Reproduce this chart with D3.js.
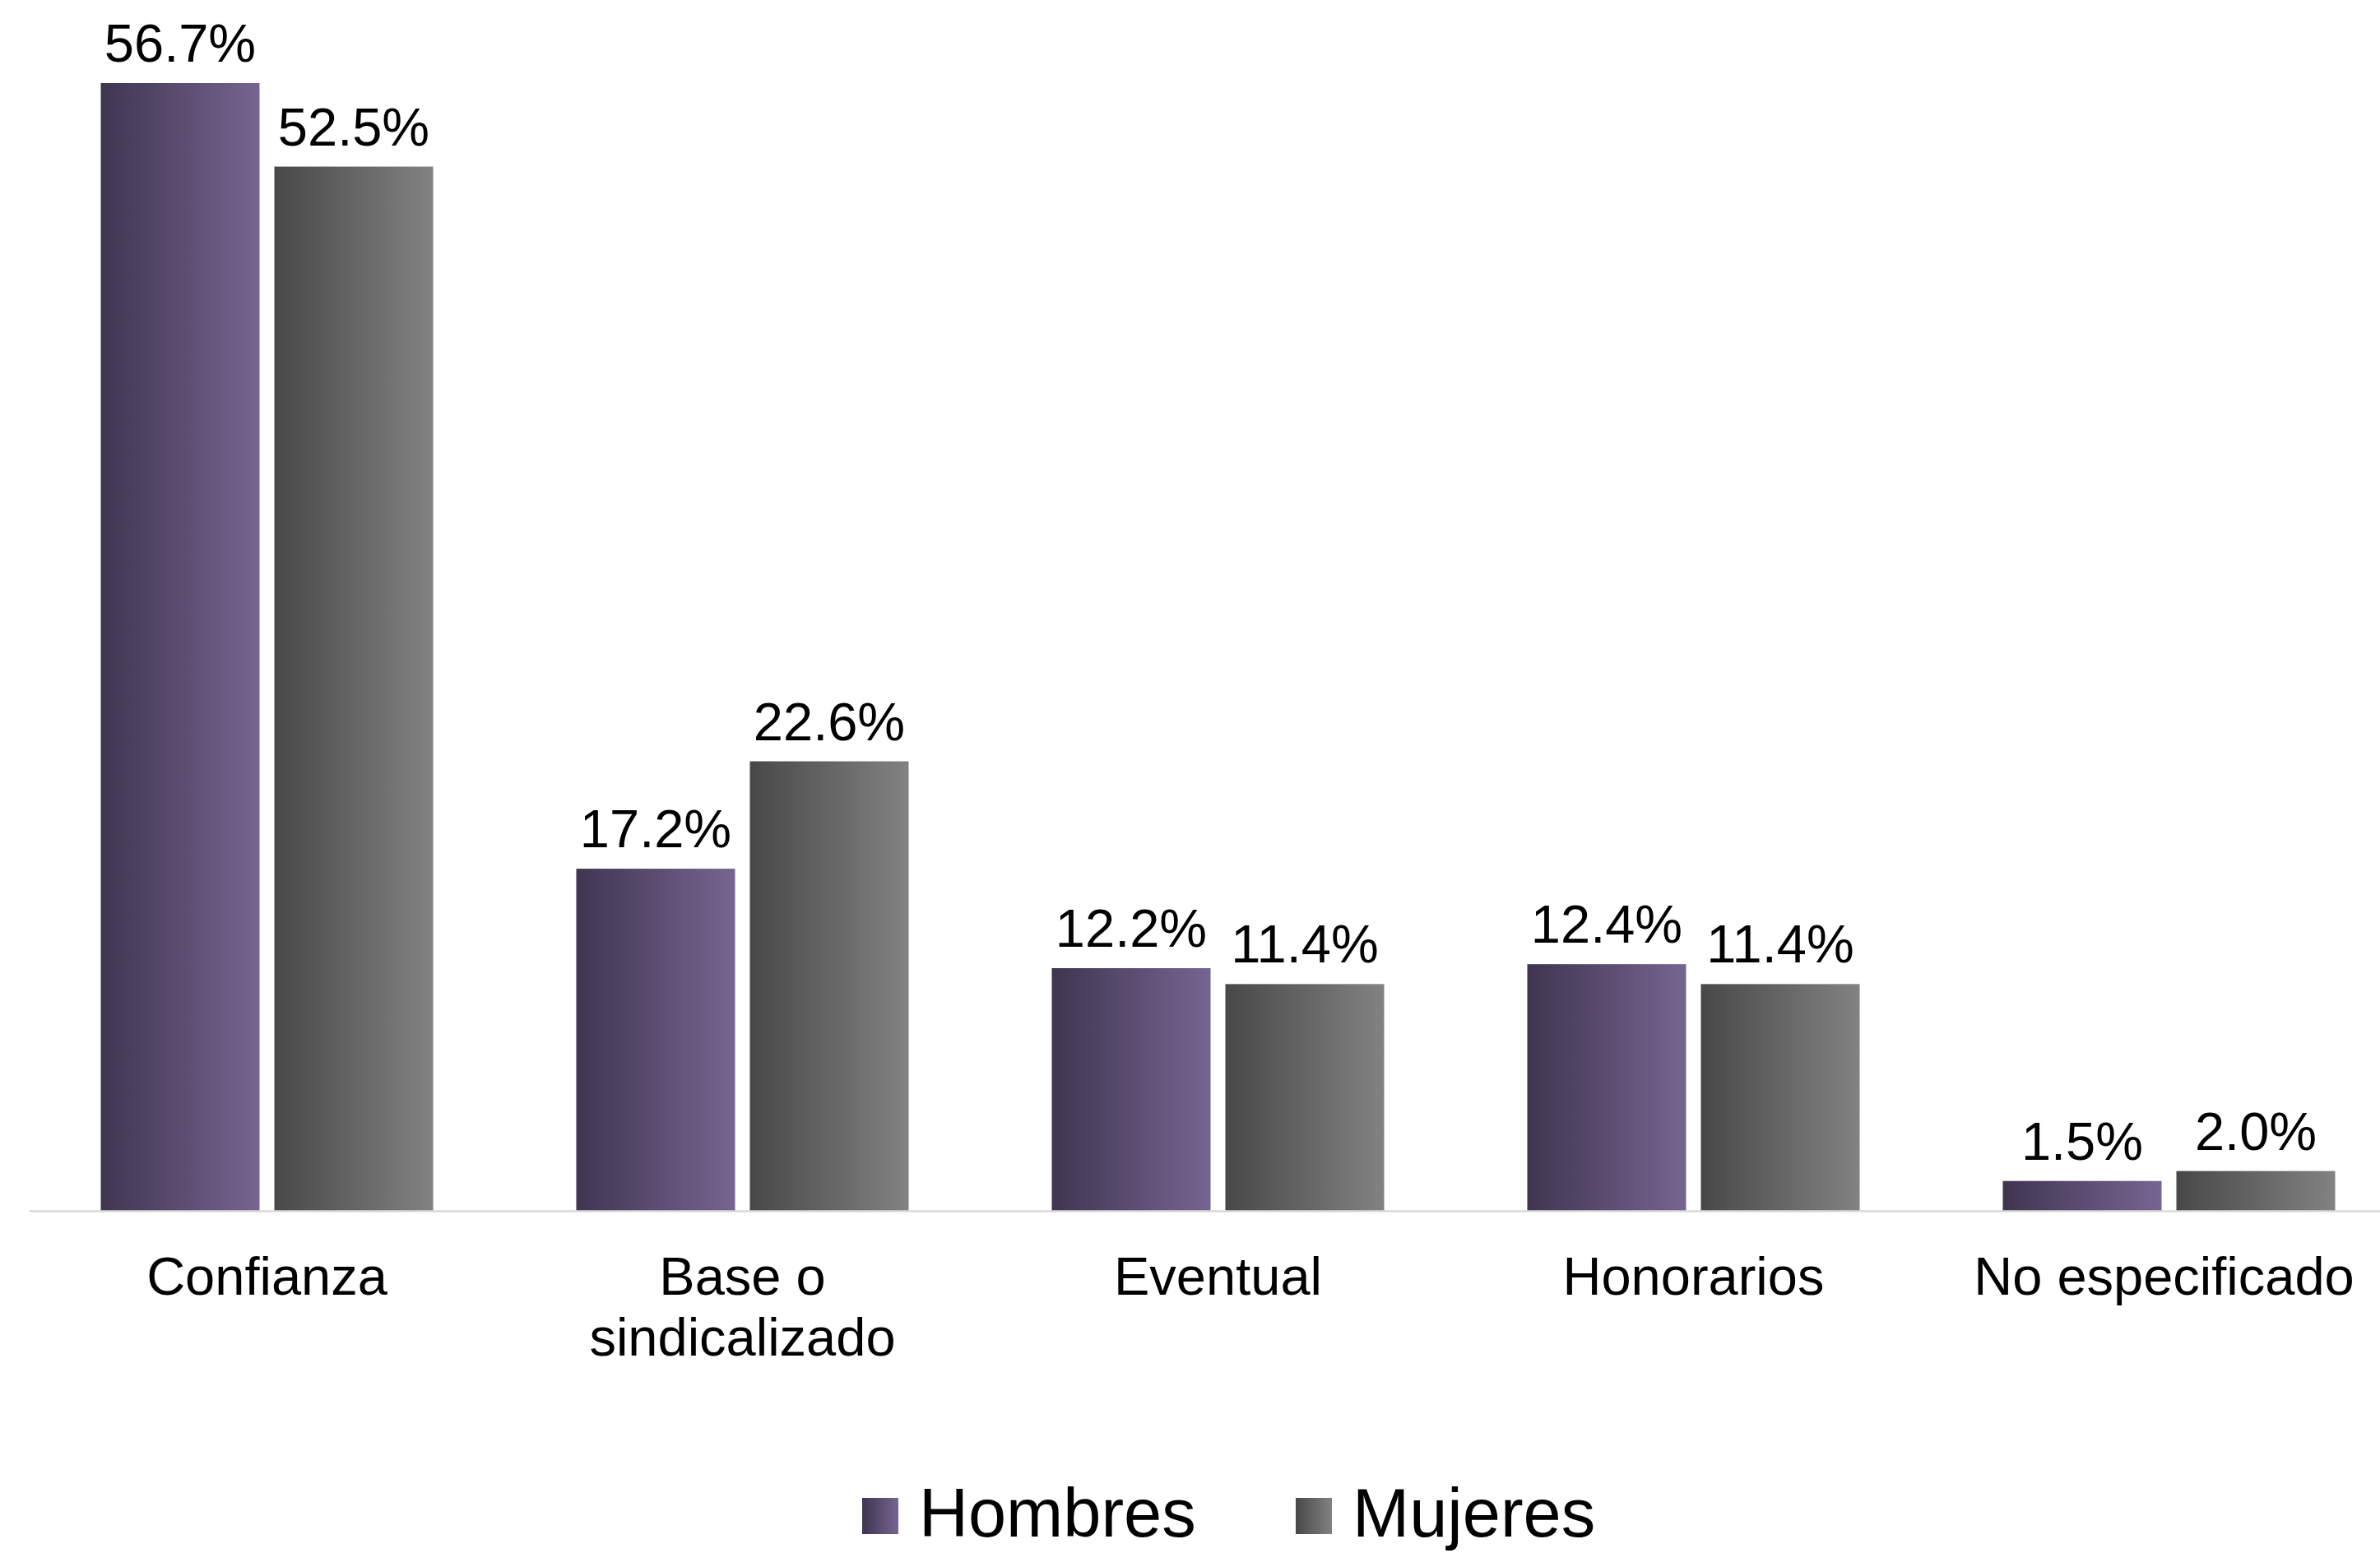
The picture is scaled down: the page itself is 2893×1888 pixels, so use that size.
<!DOCTYPE html>
<html>
<head>
<meta charset="utf-8">
<script src="https://cdn.jsdelivr.net/npm/d3@7"></script>
<style>
  html, body { margin: 0; padding: 0; background: #ffffff; overflow: hidden; }
  svg { display: block; }
  text { font-family: "Liberation Sans", Arial, sans-serif; fill: #000; }
</style>
</head>
<body>
<svg id="chart" width="2893" height="1888"></svg>
<script>
const categories = ["Confianza", "Base o sindicalizado", "Eventual", "Honorarios", "No especificado"];
const categoryLines = [["Confianza"], ["Base o", "sindicalizado"], ["Eventual"], ["Honorarios"], ["No especificado"]];
const series = ["Hombres", "Mujeres"];
const hombres = [56.7, 17.2, 12.2, 12.4, 1.5];
const mujeres = [52.5, 22.6, 11.4, 11.4, 2.0];
const valueLabels = {
  Hombres: ["56.7%", "17.2%", "12.2%", "12.4%", "1.5%"],
  Mujeres: ["52.5%", "22.6%", "11.4%", "11.4%", "2.0%"]
};

const W = 2893, H = 1888;
const svg = d3.select("#chart");

const defs = svg.append("defs");
const grads = {
  Hombres: ["#3f3550", "#766591"],
  Mujeres: ["#484848", "#828282"]
};
series.forEach(s => {
  const g = defs.append("linearGradient").attr("id", "g-" + s)
    .attr("x1", "0%").attr("x2", "100%").attr("y1", "0%").attr("y2", "0%");
  g.append("stop").attr("offset", "0%").attr("stop-color", grads[s][0]);
  g.append("stop").attr("offset", "100%").attr("stop-color", grads[s][1]);
});

const baseY = 1472;
const pxPerUnit = 24.18;
const y = d3.scaleLinear().domain([0, 60]).range([baseY, baseY - 60 * pxPerUnit]);
const x0 = d3.scaleBand().domain(categories).range([35.5, 35.5 + 5 * 578]).paddingInner(0).paddingOuter(0);
const bw = x0.bandwidth();
const x1 = d3.scaleBand().domain(series).range([bw * 0.1505, bw * 0.8495]).paddingInner(18 / 211).paddingOuter(0);

const data = categories.map((c, i) => ({
  cat: c,
  vals: [
    { s: "Hombres", v: hombres[i], lab: valueLabels.Hombres[i] },
    { s: "Mujeres", v: mujeres[i], lab: valueLabels.Mujeres[i] }
  ]
}));

const groups = svg.append("g").selectAll("g.grp").data(data).join("g")
  .attr("class", "grp")
  .attr("transform", d => `translate(${x0(d.cat)},0)`);

groups.selectAll("rect").data(d => d.vals).join("rect")
  .attr("x", d => x1(d.s))
  .attr("y", d => y(d.v))
  .attr("width", x1.bandwidth())
  .attr("height", d => y(0) - y(d.v))
  .attr("fill", d => `url(#g-${d.s})`);

groups.selectAll("text.val").data(d => d.vals).join("text")
  .attr("class", "val")
  .attr("x", d => x1(d.s) + x1.bandwidth() / 2)
  .attr("y", d => y(d.v) - 26)
  .attr("text-anchor", "middle")
  .attr("font-size", 65)
  .text(d => d.lab);

// axis baseline
const axis = d3.axisBottom(x0).tickSize(0).tickFormat("");
const axG = svg.append("g").attr("transform", `translate(0,${baseY})`).call(axis);
axG.select(".domain").attr("stroke", "#d9d9d9").attr("stroke-width", 2.5);

// category labels
categories.forEach((c, i) => {
  const cx = x0(c) + bw / 2 - (i === categories.length - 1 ? 6 : 0);
  const t = svg.append("text")
    .attr("x", cx)
    .attr("y", 1574)
    .attr("text-anchor", "middle")
    .attr("font-size", 65);
  categoryLines[i].forEach((ln, j) => {
    t.append("tspan").attr("x", cx).attr("dy", j === 0 ? 0 : 74).text(ln);
  });
});

// legend
const legendItems = [
  { s: "Hombres", sx: 1048, tx: 1117 },
  { s: "Mujeres", sx: 1575, tx: 1644 }
];
const lg = svg.append("g");
legendItems.forEach(it => {
  lg.append("rect").attr("x", it.sx).attr("y", 1821).attr("width", 44).attr("height", 44)
    .attr("fill", `url(#g-${it.s})`);
  lg.append("text").attr("x", it.tx).attr("y", 1868).attr("font-size", 83).text(it.s);
});
</script>
</body>
</html>
